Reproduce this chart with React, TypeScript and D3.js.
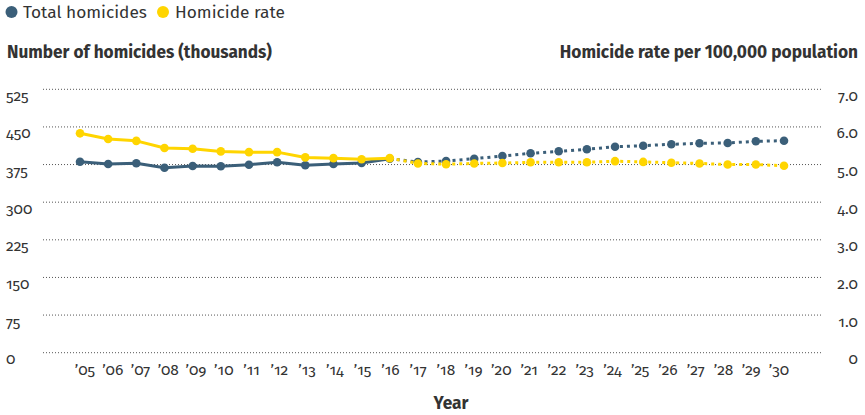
import React from "react";
import * as d3 from "d3";

const years = d3.range(2005, 2031);
const totalHomicides = [380.7, 376.1, 377.5, 368.7, 372.1, 371.5, 374.7, 379.5, 373.5, 376.1, 378.1, 386.7,
  380.1, 382.1, 386.7, 392.0, 397.4, 401.4, 405.4, 410.6, 412.6, 415.4, 417.4, 418.0, 421.4, 422.6];
const homicideRate = [5.83, 5.68, 5.63, 5.44, 5.42, 5.35, 5.33, 5.33, 5.19, 5.17, 5.14, 5.17,
  5.03, 5.01, 5.03, 5.04, 5.06, 5.06, 5.06, 5.09, 5.07, 5.05, 5.03, 5.0, 5.0, 4.97];
const lastActualYear = 2016;
const leftTicks = [0, 75, 150, 225, 300, 375, 450, 525];
const rightTicks = [0, 1, 2, 3, 4, 5, 6, 7];
const seriesNames = ["Total homicides", "Homicide rate"];

const BLUE = "#3b5f79";
const YELLOW = "#ffd500";
const FONT = "'Fira Sans', 'Noto Sans', 'Open Sans', sans-serif";

export default function App() {
  const W = 865, H = 415;
  const x = d3.scaleLinear().domain([2005, 2030]).range([80, 784]);
  const xLabel = d3.scaleLinear().domain([2005, 2030]).range([85, 779]);
  const yL = d3.scaleLinear().domain([0, 525]).range([352.7, 89.3]);
  const yR = d3.scaleLinear().domain([0, 7]).range([352.7, 89.3]);
  const gx0 = 43, gx1 = 822;

  const totalPts = years.map((yr, i) => ({ yr, v: totalHomicides[i] }));
  const ratePts = years.map((yr, i) => ({ yr, v: homicideRate[i] }));

  const lineL = d3.line<{ yr: number; v: number }>().x(d => x(d.yr)).y(d => yL(d.v));
  const lineR = d3.line<{ yr: number; v: number }>().x(d => x(d.yr)).y(d => yR(d.v));

  const series = [
    { pts: totalPts, line: lineL, y: yL, color: BLUE },
    { pts: ratePts, line: lineR, y: yR, color: YELLOW },
  ];

  const numStyle: React.CSSProperties = { fontVariantNumeric: "oldstyle-nums" };

  return (
    <svg width={W} height={H} style={{ position: "absolute", left: 0, top: 0, fontFamily: FONT }}>
      {/* legend */}
      <circle cx={11.5} cy={12} r={6} fill={BLUE} />
      <text x={23} y={18} fontSize={17.3} fill="#333">{seriesNames[0]}</text>
      <circle cx={163} cy={12} r={6} fill={YELLOW} />
      <text x={175} y={18} fontSize={17.3} fill="#333">{seriesNames[1]}</text>

      {/* axis titles */}
      <text x={7} y={58} fontSize={17.2} fontWeight="bold" fill="#333">Number of homicides (thousands)</text>
      <text x={858} y={58} fontSize={17.3} fontWeight="bold" fill="#333" textAnchor="end">Homicide rate per 100,000 population</text>

      {/* grid + left ticks */}
      {leftTicks.map(t => (
        <g key={"l" + t}>
          <line x1={gx0} x2={gx1} y1={yL(t)} y2={yL(t)} stroke="#555" strokeWidth={1} strokeDasharray="1,2" />
          <text x={6} y={yL(t) + 11.5} fontSize={15.5} fill="#333" style={numStyle}>{t}</text>
        </g>
      ))}
      {rightTicks.map(t => (
        <text key={"r" + t} x={858} y={yR(t) + 11.5} fontSize={15.5} fill="#333" textAnchor="end" style={numStyle}>
          {t === 0 ? "0" : t.toFixed(1)}
        </text>
      ))}

      {/* x tick labels */}
      {years.map(yr => (
        <text key={yr} x={xLabel(yr)} y={375} fontSize={15.5} fill="#333" textAnchor="middle" style={numStyle}>
          {"\u2019" + String(yr).slice(2)}
        </text>
      ))}
      <text x={451} y={409} fontSize={17.3} fontWeight="bold" fill="#333" textAnchor="middle">Year</text>

      {/* series */}
      {series.map((s, k) => {
        const actual = s.pts.filter(d => d.yr <= lastActualYear);
        const proj = s.pts.filter(d => d.yr >= lastActualYear);
        return (
          <g key={k}>
            <path d={s.line(actual) || ""} fill="none" stroke={s.color} strokeWidth={3} strokeLinejoin="round" />
            <path d={s.line(proj) || ""} fill="none" stroke={s.color} strokeWidth={3} strokeDasharray="3,4" />
            {s.pts.map(d => (
              <circle key={d.yr} cx={x(d.yr)} cy={s.y(d.v)} r={4.3} fill={s.color} />
            ))}
          </g>
        );
      })}
    </svg>
  );
}
